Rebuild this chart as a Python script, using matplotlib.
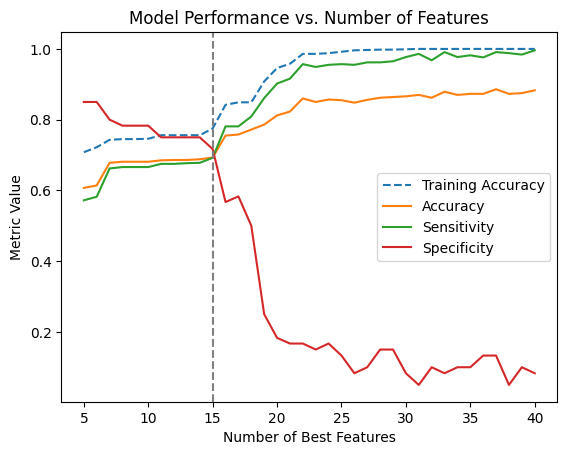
import matplotlib
matplotlib.use('Agg')
import matplotlib.pyplot as plt

n_features = list(range(5, 41))

train_acc = [0.708, 0.722, 0.743, 0.745, 0.745, 0.746, 0.756, 0.756, 0.756, 0.756, 0.775,
             0.842, 0.849, 0.849, 0.908, 0.946, 0.958, 0.986, 0.986, 0.988, 0.992,
             0.996, 0.997, 0.998, 0.998, 0.999, 1.0, 1.0, 1.0, 1.0, 1.0, 1.0, 1.0, 1.0, 1.0, 1.0]
accuracy = [0.607, 0.614, 0.678, 0.681, 0.681, 0.681, 0.685, 0.686, 0.686, 0.688, 0.693,
            0.755, 0.758, 0.772, 0.786, 0.812, 0.823, 0.860, 0.850, 0.857, 0.855,
            0.848, 0.856, 0.862, 0.864, 0.866, 0.870, 0.862, 0.879, 0.870, 0.873,
            0.873, 0.886, 0.873, 0.875, 0.883]
sensitivity = [0.572, 0.582, 0.662, 0.666, 0.666, 0.666, 0.675, 0.675, 0.677, 0.678, 0.692,
               0.781, 0.781, 0.809, 0.861, 0.902, 0.916, 0.957, 0.949, 0.955, 0.957,
               0.955, 0.962, 0.962, 0.965, 0.977, 0.986, 0.968, 0.991, 0.977, 0.982,
               0.976, 0.991, 0.988, 0.984, 0.996]
specificity = [0.850, 0.850, 0.800, 0.783, 0.783, 0.783, 0.750, 0.750, 0.750, 0.750, 0.717,
               0.567, 0.583, 0.500, 0.250, 0.183, 0.167, 0.167, 0.150, 0.167, 0.133,
               0.083, 0.100, 0.150, 0.150, 0.083, 0.050, 0.100, 0.083, 0.100, 0.100,
               0.133, 0.133, 0.050, 0.100, 0.083]

best_k = 15

fig, ax = plt.subplots()
ax.plot(n_features, train_acc, '--', label='Training Accuracy')
ax.plot(n_features, accuracy, label='Accuracy')
ax.plot(n_features, sensitivity, label='Sensitivity')
ax.plot(n_features, specificity, label='Specificity')
ax.axvline(best_k, color='gray', linestyle='--')

ax.set_xlabel('Number of Best Features')
ax.set_ylabel('Metric Value')
ax.set_title('Model Performance vs. Number of Features')
ax.legend(loc='center right')

plt.savefig('out.png', bbox_inches='tight')
